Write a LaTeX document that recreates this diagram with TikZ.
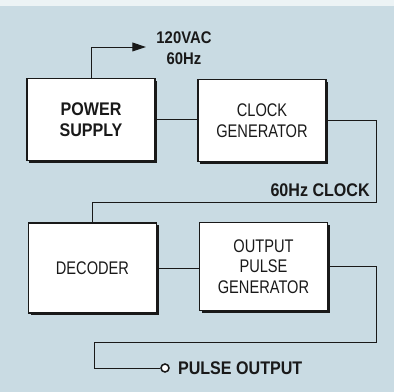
\documentclass[tikz,border=0pt]{standalone}
\usepackage{fontspec}
\setmainfont{Liberation Sans}[FakeStretch=0.8, BoldFeatures={FakeStretch=0.88}]
\usetikzlibrary{positioning,shadows,arrows.meta}
\definecolor{panel}{RGB}{201,219,227}
\definecolor{ink}{RGB}{25,25,25}

\begin{document}
\begin{tikzpicture}[
    x=0.025cm, y=-0.025cm,
    block/.style={draw=ink, line width=0.8pt, fill=white, minimum width=3.2cm, minimum height=2.05cm, align=center, text=ink,
        font=\fontsize{13}{14.6}\selectfont,
        drop shadow={shadow xshift=0.06cm, shadow yshift=-0.06cm, fill=ink, opacity=1}},
    wire/.style={draw=ink, line width=0.7pt},
    lbl/.style={text=ink, inner sep=0pt, align=center, font=\bfseries\fontsize{13}{15}\selectfont}
]
    % Panel
    \fill[panel] (0,0) rectangle (394,392);
    \fill[panel!35!white] (0,0) rectangle (394,6);
    \useasboundingbox (0,0) rectangle (394,392);

    % Blocks
    \node[block, font=\bfseries\fontsize{13}{14.6}\selectfont] (power) at (91,119.5) {POWER\\SUPPLY};
    \node[block] (clock) at (262,120.5) {CLOCK\\GENERATOR};
    \node[block, minimum height=2.25cm] (decoder) at (92.5,268) {DECODER};
    \node[block, minimum height=2.18cm] (pulse) at (263.5,266.5) {OUTPUT\\PULSE\\GENERATOR};

    % Mains input
    \coordinate (mains) at (146,47);
    \draw[wire, -{Triangle[length=3.4mm, width=2.2mm]}] (power.north) |- (mains);
    \node[lbl, font=\bfseries\fontsize{12}{15}\selectfont] (mainslbl) at (184,48) {120VAC\\60Hz};

    % Clock to decoder
    \draw[wire] (power.east) -- (power.east -| clock.west);
    \coordinate (clkturn) at (376,202);
    \draw[wire] (clock.east) -| (clkturn) -| (decoder.north);
    \node[lbl, anchor=south east, above left=0.12cm and 0.15cm of clkturn] (clklbl) {60Hz CLOCK};

    % Output
    \draw[wire] (decoder.east) -- (decoder.east -| pulse.west);
    \coordinate (outturn) at (376,342);
    \coordinate (outleft) at (94,342);
    \node[circle, draw=ink, line width=1.1pt, fill=white, inner sep=0pt, minimum size=0.2cm] (jack) at (165,368) {};
    \draw[wire] (pulse.east) -| (outturn) -- (outleft) |- (jack.west);
    \node[lbl, right=0.2cm of jack] (outlbl) {PULSE OUTPUT};
\end{tikzpicture}
\end{document}
